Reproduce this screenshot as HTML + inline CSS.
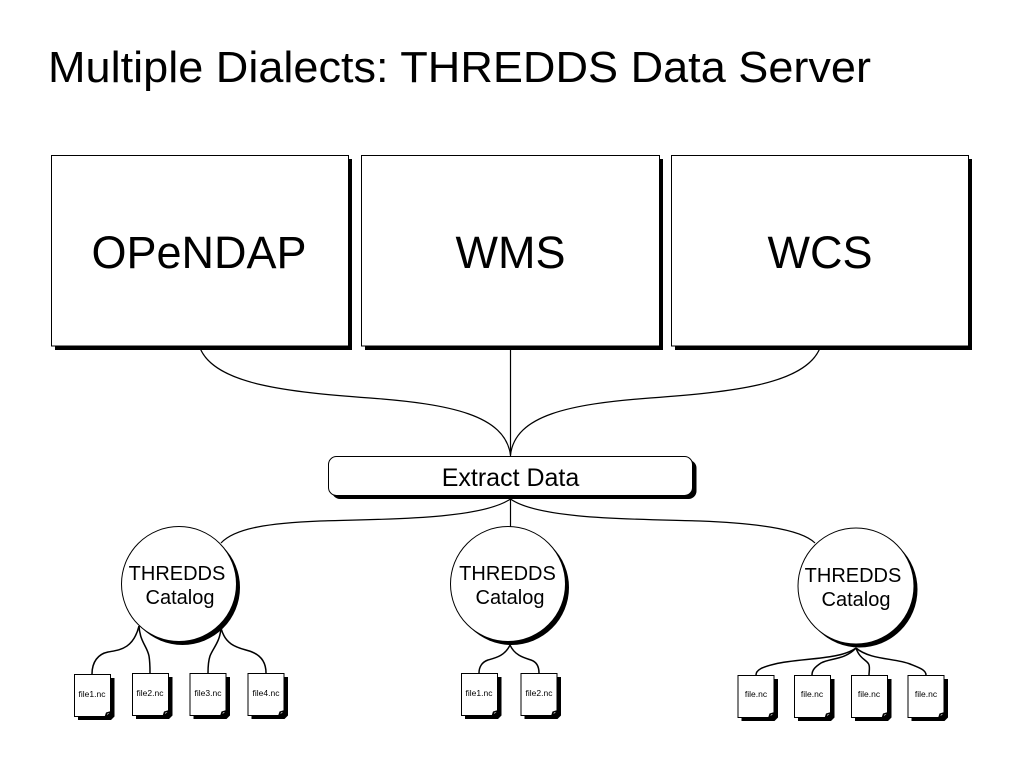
<!DOCTYPE html>
<html>
<head>
<meta charset="utf-8">
<style>
html,body{margin:0;padding:0;background:#fff;width:1024px;height:768px;overflow:hidden}
svg{display:block}
text{font-family:"Liberation Sans",sans-serif;fill:#000;text-anchor:middle}
.c{fill:none;stroke:#000;stroke-width:1.2}
.t{fill:none;stroke:#000;stroke-width:1.5}
.b{fill:#fff;stroke:#000;stroke-width:1}
.big{font-size:45px}
.cat{font-size:20px}
.f{font-size:8.5px}
</style>
</head>
<body>
<svg width="1024" height="768" viewBox="0 0 1024 768" xmlns="http://www.w3.org/2000/svg">
<defs>
<g id="doc">
<path d="M4 4H40.500V42.500L37 46H4Z" fill="#000"/>
<path d="M.5 .5H36.500V38L31 42.500H.5Z" fill="#fff" stroke="#000"/>
<path d="M30.500 43L32 38.500L37 37L39 38.500L35.500 43Z" fill="#000"/>
<path d="M33 41L33.500 39.500L35.500 39Z" fill="#fff"/>
</g>
</defs>

<text x="48" y="82" text-anchor="start" style="text-anchor:start;font-size:44px" textLength="823" lengthAdjust="spacingAndGlyphs">Multiple Dialects: THREDDS Data Server</text>

<!-- connectors -->
<path class="c" d="M200 348C215 385 290 392 370 398C450 404 505 415 510.500 455"/>
<path class="c" d="M820 348C805 385 730 392 650 398C570 404 515 415 510.500 455"/>
<path class="c" d="M510.500 348V456"/>
<path class="c" d="M510.500 499C480 520 380 519 320 521C270 523 235 528 221 543"/>
<path class="c" d="M510.500 499C540 520 640 519 700 521C750 523 800 528 815 543"/>
<path class="c" d="M510.500 497V528"/>

<!-- top boxes -->
<rect x="55" y="159" width="297" height="191" fill="#000"/>
<rect class="b" x="51.500" y="155.500" width="297" height="190.500"/>
<rect x="365" y="159" width="298" height="191" fill="#000"/>
<rect class="b" x="361.500" y="155.500" width="298" height="190.500"/>
<rect x="675" y="159" width="297" height="191" fill="#000"/>
<rect class="b" x="671.500" y="155.500" width="297" height="190.500"/>
<text class="big" x="199" y="268">OPeNDAP</text>
<text class="big" x="510.500" y="268">WMS</text>
<text class="big" x="820" y="268">WCS</text>

<!-- extract -->
<rect x="332" y="460" width="364.500" height="39" rx="8" fill="#000"/>
<rect class="b" x="328.500" y="456.500" width="364" height="39" rx="8"/>
<text x="510.500" y="486" style="font-size:25px">Extract Data</text>

<!-- left branch -->
<path class="t" d="M139 626C133 650 118 650 108 652C98 654 92 662 92 674"/>
<path class="t" d="M139 626C140 642 147 646 149 656C150 662 150 668 150 673"/>
<path class="t" d="M221 628C220 642 213 648 210 656C208 662 208 668 208 673"/>
<path class="t" d="M221 628C226 648 242 648 252 652C262 656 266 664 266 673"/>
<circle cx="182.500" cy="587.500" r="57.500" fill="#000"/>
<circle class="b" cx="179" cy="584" r="57.500"/>
<text class="cat" x="177" y="580">THREDDS</text>
<text class="cat" x="180" y="604">Catalog</text>

<!-- middle branch -->
<path class="t" d="M510 645C505 656 495 658 488 660C482 662 479 667 479 673"/>
<path class="t" d="M510 645C515 656 525 658 531 660C537 662 539 667 539 673"/>
<circle cx="511.500" cy="587.500" r="57.500" fill="#000"/>
<circle class="b" cx="508" cy="584" r="57.500"/>
<text class="cat" x="507.500" y="580">THREDDS</text>
<text class="cat" x="510" y="604">Catalog</text>

<!-- right branch -->
<path class="t" d="M856 648C840 660 800 658 775 664C762 667 756 670 756 675"/>
<path class="t" d="M856 648C845 660 830 658 821 663C815 667 812 670 812 675"/>
<path class="t" d="M856 648C860 660 868 660 869 665C870 668 869 672 869 675"/>
<path class="t" d="M856 648C870 660 895 658 910 664C920 668 926 670 926 675"/>
<circle cx="859.500" cy="589.500" r="58" fill="#000"/>
<circle class="b" cx="856" cy="586" r="58"/>
<text class="cat" x="853" y="582">THREDDS</text>
<text class="cat" x="856" y="606">Catalog</text>

<!-- files -->
<use href="#doc" x="74" y="674"/><text class="f" x="92" y="697">file1.nc</text>
<use href="#doc" x="132" y="673"/><text class="f" x="150" y="696">file2.nc</text>
<use href="#doc" x="189.500" y="673"/><text class="f" x="208" y="696">file3.nc</text>
<use href="#doc" x="247.500" y="673"/><text class="f" x="266" y="696">file4.nc</text>

<use href="#doc" x="461" y="673"/><text class="f" x="479" y="696">file1.nc</text>
<use href="#doc" x="520.500" y="673"/><text class="f" x="539" y="696">file2.nc</text>

<use href="#doc" x="737.500" y="675"/><text class="f" x="756" y="697">file.nc</text>
<use href="#doc" x="794" y="675"/><text class="f" x="812" y="697">file.nc</text>
<use href="#doc" x="851" y="675"/><text class="f" x="869" y="697">file.nc</text>
<use href="#doc" x="907.500" y="675"/><text class="f" x="926" y="697">file.nc</text>
</svg>
</body>
</html>
